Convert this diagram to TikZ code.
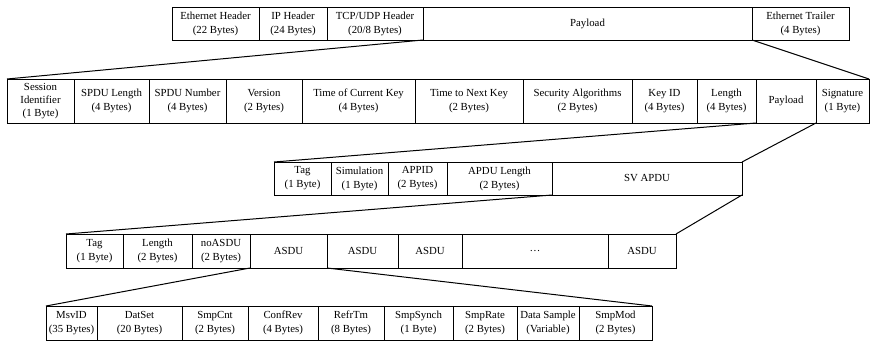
\documentclass[tikz,border=0pt]{standalone}
\usepackage{fontspec}
\setmainfont{Liberation Serif}
\usepackage{tikz}
\usetikzlibrary{positioning}

\begin{document}
\begin{tikzpicture}[x=1pt, y=-1pt,
	field/.style={draw, line width=0.7pt, inner sep=0pt, outer sep=0pt, align=center, anchor=west},
	cell/.style={field, minimum height=#1},
	link/.style={line width=1pt}]
	\useasboundingbox (0,0) rectangle (871,341);
	\fontsize{10.8}{14}\selectfont
	
	\node[cell=33pt, minimum width=87pt, anchor=north west] (eth) at (172,7) {Ethernet Header\\(22 Bytes)};
	\node[cell=33pt, minimum width=68pt, right=0pt of eth] (ip) {IP Header\\(24 Bytes)};
	\node[cell=33pt, minimum width=96pt, right=0pt of ip] (tcp) {TCP/UDP Header\\(20/8 Bytes)};
	\node[cell=33pt, minimum width=329pt, right=0pt of tcp] (pay) {Payload};
	\node[cell=33pt, minimum width=97pt, right=0pt of pay] (trl) {Ethernet Trailer\\(4 Bytes)};
	
	\node[cell=44pt, minimum width=67pt, anchor=north west, font={\fontsize{10.8}{13}\selectfont}] (sid) at (7,79) {Session\\Identifier\\(1 Byte)};
	\node[cell=44pt, minimum width=75pt, right=0pt of sid] (slen) {SPDU Length\\(4 Bytes)};
	\node[cell=44pt, minimum width=77pt, right=0pt of slen] (snum) {SPDU Number\\(4 Bytes)};
	\node[cell=44pt, minimum width=76pt, right=0pt of snum] (ver) {Version\\(2 Bytes)};
	\node[cell=44pt, minimum width=113pt, right=0pt of ver] (tck) {Time of Current Key\\(4 Bytes)};
	\node[cell=44pt, minimum width=108pt, right=0pt of tck] (tnk) {Time to Next Key\\(2 Bytes)};
	\node[cell=44pt, minimum width=109pt, right=0pt of tnk] (alg) {Security Algorithms\\(2 Bytes)};
	\node[cell=44pt, minimum width=65pt, right=0pt of alg] (kid) {Key ID\\(4 Bytes)};
	\node[cell=44pt, minimum width=59pt, right=0pt of kid] (len) {Length\\(4 Bytes)};
	\node[cell=44pt, minimum width=60pt, right=0pt of len] (spay) {Payload};
	\node[cell=44pt, minimum width=53pt, right=0pt of spay] (sig) {Signature\\(1 Byte)};
	
	\node[cell=33pt, minimum width=57pt, anchor=north west] (tag) at (274,162) {Tag\\(1 Byte)};
	\node[cell=33pt, minimum width=57pt, right=0pt of tag] (sim) {Simulation\\(1 Byte)};
	\node[cell=33pt, minimum width=59pt, right=0pt of sim] (appid) {APPID\\(2 Bytes)};
	\node[cell=33pt, minimum width=105pt, right=0pt of appid] (alen) {APDU Length\\(2 Bytes)};
	\node[cell=33pt, minimum width=190pt, right=0pt of alen] (apdu) {SV APDU};
	
	\node[cell=34pt, minimum width=57pt, anchor=north west] (stag) at (66,234) {Tag\\(1 Byte)};
	\node[cell=34pt, minimum width=69pt, right=0pt of stag] (slength) {Length\\(2 Bytes)};
	\node[cell=34pt, minimum width=58pt, right=0pt of slength] (noasdu) {noASDU\\(2 Bytes)};
	\node[cell=34pt, minimum width=77pt, right=0pt of noasdu] (asdua) {ASDU};
	\node[cell=34pt, minimum width=71pt, right=0pt of asdua] (asdub) {ASDU};
	\node[cell=34pt, minimum width=64pt, right=0pt of asdub] (asduc) {ASDU};
	\node[cell=34pt, minimum width=146pt, right=0pt of asduc] (dots) {\dots};
	\node[cell=34pt, minimum width=68pt, right=0pt of dots] (asdun) {ASDU};
	
	\node[cell=34pt, minimum width=51pt, anchor=north west] (msvid) at (46,306) {MsvID\\(35 Bytes)};
	\node[cell=34pt, minimum width=85pt, right=0pt of msvid] (datset) {DatSet\\(20 Bytes)};
	\node[cell=34pt, minimum width=66pt, right=0pt of datset] (smpcnt) {SmpCnt\\(2 Bytes)};
	\node[cell=34pt, minimum width=70pt, right=0pt of smpcnt] (confrev) {ConfRev\\(4 Bytes)};
	\node[cell=34pt, minimum width=66pt, right=0pt of confrev] (refrtm) {RefrTm\\(8 Bytes)};
	\node[cell=34pt, minimum width=69pt, right=0pt of refrtm] (smpsynch) {SmpSynch\\(1 Byte)};
	\node[cell=34pt, minimum width=64pt, right=0pt of smpsynch] (smprate) {SmpRate\\(2 Bytes)};
	\node[cell=34pt, minimum width=62pt, right=0pt of smprate] (sample) {Data Sample\\(Variable)};
	\node[cell=34pt, minimum width=73pt, right=0pt of sample] (smpmod) {SmpMod\\(2 Bytes)};
	
	\draw[link] (tcp.south east) -- (sid.north west);
	\draw[link] (trl.south west) -- (sig.north east);
	\draw[link] (spay.south west) -- (tag.north west);
	\draw[link] (spay.south east) -- (apdu.north east);
	\draw[link] (apdu.south west) -- (stag.north west);
	\draw[link] (apdu.south east) -- (asdun.north east);
	\draw[link] (asdua.south west) -- (msvid.north west);
	\draw[link] (asdua.south east) -- (smpmod.north east);
\end{tikzpicture}
\end{document}
